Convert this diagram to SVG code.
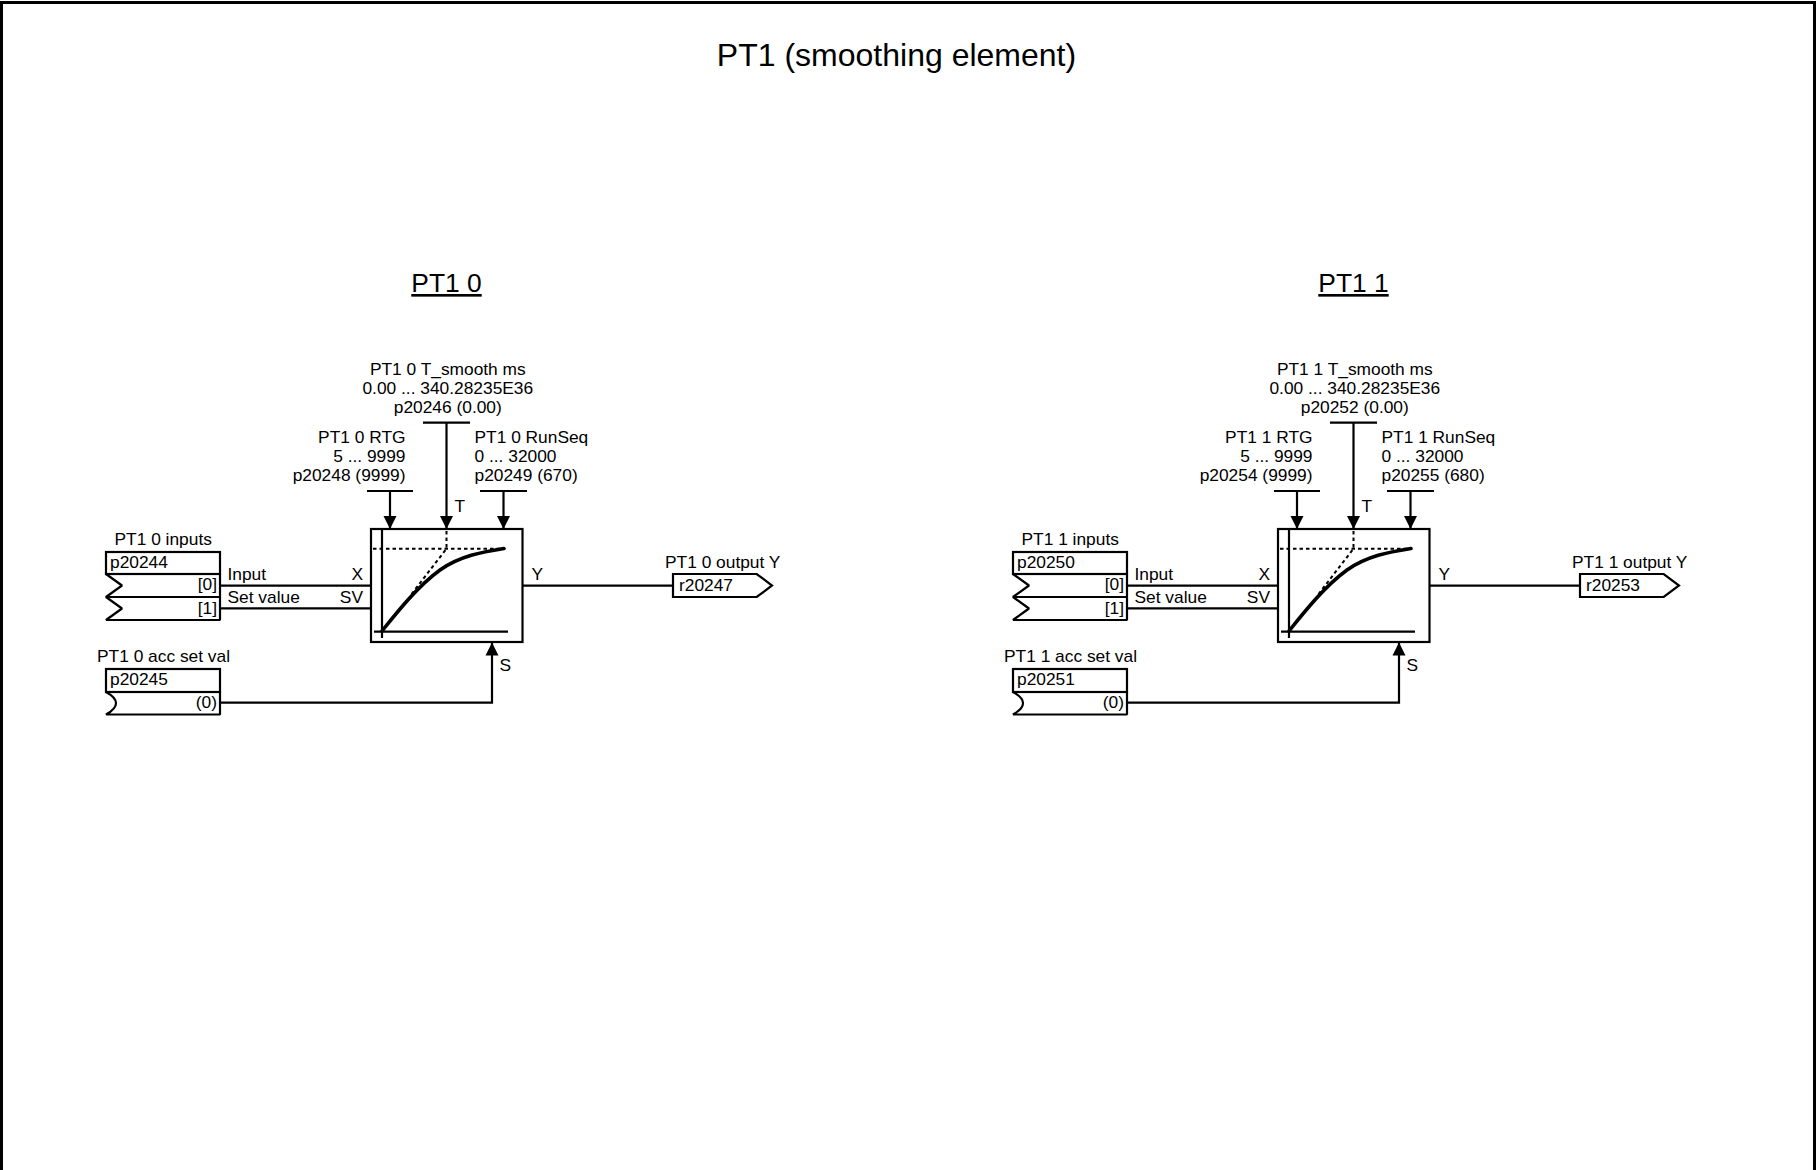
<svg xmlns="http://www.w3.org/2000/svg" width="1816" height="1170" viewBox="0 0 1816 1170">
<style>
text{font-family:"Liberation Sans",Arial,sans-serif;font-size:17.35px;fill:#000}
.e{text-anchor:end}.m{text-anchor:middle}
.h{font-size:26.4px;text-decoration:underline}
.t{font-size:32px}
.l{fill:none;stroke:#000;stroke-width:2.2}
.b{fill:#fff;stroke:#000;stroke-width:2.2}
.z{fill:none;stroke:#000;stroke-width:2.2;stroke-linejoin:bevel}
.d{fill:none;stroke:#000;stroke-width:2;stroke-dasharray:3.5 3}
.c{fill:none;stroke:#000;stroke-width:3.6;stroke-linecap:round}
</style>
<defs>
<marker id="a" markerUnits="userSpaceOnUse" markerWidth="14" markerHeight="14" refX="13" refY="7" orient="auto"><path d="M0 0.500L13 7L0 13.500Z" fill="#000"/></marker>
</defs>
<rect x="1.5" y="2.5" width="1813" height="1170" fill="#fff" stroke="#000" stroke-width="3"/>
<text class="t m" x="896.500" y="66">PT1 (smoothing element)</text>

<g id="pt1-0">
<text class="h m" x="446.500" y="292">PT1 0</text>
<g id="connectors-0">
<path class="l" d="M220 585.7H371M220 608.3H371M522.500 585.700H673"/>
<path class="l" marker-end="url(#a)" d="M220 702.700H492V642.500"/>
<path class="l" d="M423 422.700H470M367 491H413M480 491H527"/>
<path class="l" marker-end="url(#a)" d="M446.500 422.700V529"/>
<path class="l" marker-end="url(#a)" d="M390 491V529"/>
<path class="l" marker-end="url(#a)" d="M503.500 491V529"/>
</g>
<g id="param-t-0"><text class="m" x="447.800" y="375">PT1 0 T_smooth ms</text><text class="m" x="447.800" y="394">0.00 ... 340.28235E36</text><text class="m" x="447.800" y="413">p20246 (0.00)</text><text x="454.500" y="512">T</text></g>
<g id="param-rtg-0"><text class="e" x="405.500" y="443">PT1 0 RTG</text><text class="e" x="405.500" y="462">5 ... 9999</text><text class="e" x="405.500" y="481">p20248 (9999)</text></g>
<g id="param-seq-0"><text x="474.500" y="443">PT1 0 RunSeq</text><text x="474.500" y="462">0 ... 32000</text><text x="474.500" y="481">p20249 (670)</text></g>
<g id="inputs-0">
<text x="114.500" y="545">PT1 0 inputs</text>
<rect class="b" x="106" y="552" width="114" height="22"/>
<path class="z" d="M106 574H220V620H106L122 608.500L106 597L122 585.500ZM106 597H220"/>
<text x="110" y="568">p20244</text>
<text class="e" x="217" y="590">[0]</text><text class="e" x="217" y="613.500">[1]</text>
<text x="227.500" y="580">Input</text><text x="227.500" y="603">Set value</text>
<text class="e" x="363" y="580">X</text><text class="e" x="363" y="603">SV</text>
</g>
<g id="acc-0">
<text x="97" y="662">PT1 0 acc set val</text>
<rect class="b" x="106" y="669" width="114" height="23"/>
<path class="z" d="M106 692H220V714.500H106Q126 703 106 692"/>
<text x="110" y="685">p20245</text><text class="e" x="217" y="708">(0)</text>
</g>
<g id="block-0">
<rect class="b" x="371" y="529" width="151.500" height="113"/>
<path class="l" d="M382 529V638M374 631.700H508"/>
<path class="d" d="M373 548.700H504M446.500 531V548.700L410 596"/>
<path class="c" d="M382 631C398 611 418 586 440 570C460 556 482 552 504 548.500"/>
<text x="531.500" y="579.500">Y</text><text x="499.500" y="671">S</text>
</g>
<g id="output-0">
<text x="665" y="568">PT1 0 output Y</text>
<path class="b" d="M673 574H756.700L772 585.500L756.700 597H673Z"/>
<text x="679" y="590.500">r20247</text>
</g>
</g>

<g id="pt1-1" transform="translate(907 0)">
<text class="h m" x="446.500" y="292">PT1 1</text>
<g id="connectors-1">
<path class="l" d="M220 585.7H371M220 608.3H371M522.500 585.700H673"/>
<path class="l" marker-end="url(#a)" d="M220 702.700H492V642.500"/>
<path class="l" d="M423 422.700H470M367 491H413M480 491H527"/>
<path class="l" marker-end="url(#a)" d="M446.500 422.700V529"/>
<path class="l" marker-end="url(#a)" d="M390 491V529"/>
<path class="l" marker-end="url(#a)" d="M503.500 491V529"/>
</g>
<g id="param-t-1"><text class="m" x="447.800" y="375">PT1 1 T_smooth ms</text><text class="m" x="447.800" y="394">0.00 ... 340.28235E36</text><text class="m" x="447.800" y="413">p20252 (0.00)</text><text x="454.500" y="512">T</text></g>
<g id="param-rtg-1"><text class="e" x="405.500" y="443">PT1 1 RTG</text><text class="e" x="405.500" y="462">5 ... 9999</text><text class="e" x="405.500" y="481">p20254 (9999)</text></g>
<g id="param-seq-1"><text x="474.500" y="443">PT1 1 RunSeq</text><text x="474.500" y="462">0 ... 32000</text><text x="474.500" y="481">p20255 (680)</text></g>
<g id="inputs-1">
<text x="114.500" y="545">PT1 1 inputs</text>
<rect class="b" x="106" y="552" width="114" height="22"/>
<path class="z" d="M106 574H220V620H106L122 608.500L106 597L122 585.500ZM106 597H220"/>
<text x="110" y="568">p20250</text>
<text class="e" x="217" y="590">[0]</text><text class="e" x="217" y="613.500">[1]</text>
<text x="227.500" y="580">Input</text><text x="227.500" y="603">Set value</text>
<text class="e" x="363" y="580">X</text><text class="e" x="363" y="603">SV</text>
</g>
<g id="acc-1">
<text x="97" y="662">PT1 1 acc set val</text>
<rect class="b" x="106" y="669" width="114" height="23"/>
<path class="z" d="M106 692H220V714.500H106Q126 703 106 692"/>
<text x="110" y="685">p20251</text><text class="e" x="217" y="708">(0)</text>
</g>
<g id="block-1">
<rect class="b" x="371" y="529" width="151.500" height="113"/>
<path class="l" d="M382 529V638M374 631.700H508"/>
<path class="d" d="M373 548.700H504M446.500 531V548.700L410 596"/>
<path class="c" d="M382 631C398 611 418 586 440 570C460 556 482 552 504 548.500"/>
<text x="531.500" y="579.500">Y</text><text x="499.500" y="671">S</text>
</g>
<g id="output-1">
<text x="665" y="568">PT1 1 output Y</text>
<path class="b" d="M673 574H756.700L772 585.500L756.700 597H673Z"/>
<text x="679" y="590.500">r20253</text>
</g>
</g>
</svg>
